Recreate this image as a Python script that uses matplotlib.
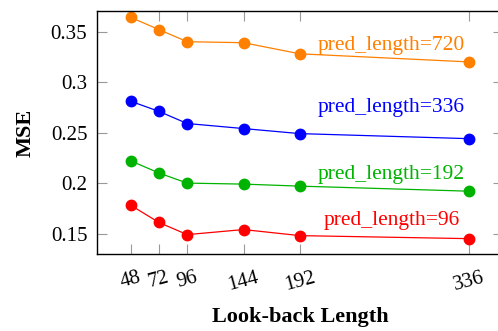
import matplotlib.pyplot as plt

plt.rcParams['font.family'] = ['Liberation Serif', 'DejaVu Serif']

look_back = [48, 72, 96, 144, 192, 336]

mse_96 = [0.178, 0.161, 0.149, 0.154, 0.148, 0.145]
mse_192 = [0.222, 0.210, 0.200, 0.199, 0.197, 0.192]
mse_336 = [0.281, 0.271, 0.259, 0.254, 0.249, 0.244]
mse_720 = [0.364, 0.352, 0.340, 0.339, 0.328, 0.320]

series = [
    (mse_720, '#ff8000', 'pred_length=720', 0.336),
    (mse_336, '#0000ff', 'pred_length=336', 0.2745),
    (mse_192, '#00b300', 'pred_length=192', 0.2085),
    (mse_96, '#ff0000', 'pred_length=96', 0.1625),
]

fig = plt.figure(figsize=(4.98, 3.31), dpi=100)
ax = fig.add_axes([0.1948, 0.2317, 0.8146, 0.736])

for vals, col, name, ty in series:
    ax.plot(look_back, vals, color=col, lw=0.9, marker='o', ms=7.5)
    ax.text(270, ty, name, color=col, fontsize=15.5, ha='center', va='center')

ax.set_xlim(19.2, 364.8)
ax.set_ylim(0.1295, 0.3707)
ax.set_xticks(look_back)
ax.set_xticklabels([str(v) for v in look_back], rotation=15)
ax.set_yticks([0.15, 0.2, 0.25, 0.3, 0.35])
ax.set_yticklabels(['0.15', '0.2', '0.25', '0.3', '0.35'])
ax.tick_params(direction='in', length=7, width=0.8, color='#999999',
               labelsize=15, top=True, right=True)
ax.tick_params(axis='y', pad=7)
ax.tick_params(axis='x', pad=10)
for s in ax.spines.values():
    s.set_linewidth(1.0)

ax.set_xlabel('Look-back Length', fontsize=16, fontweight='bold', labelpad=9)
ax.set_ylabel('MSE', fontsize=16, fontweight='bold', labelpad=11)

fig.savefig('out.png', dpi=100)
